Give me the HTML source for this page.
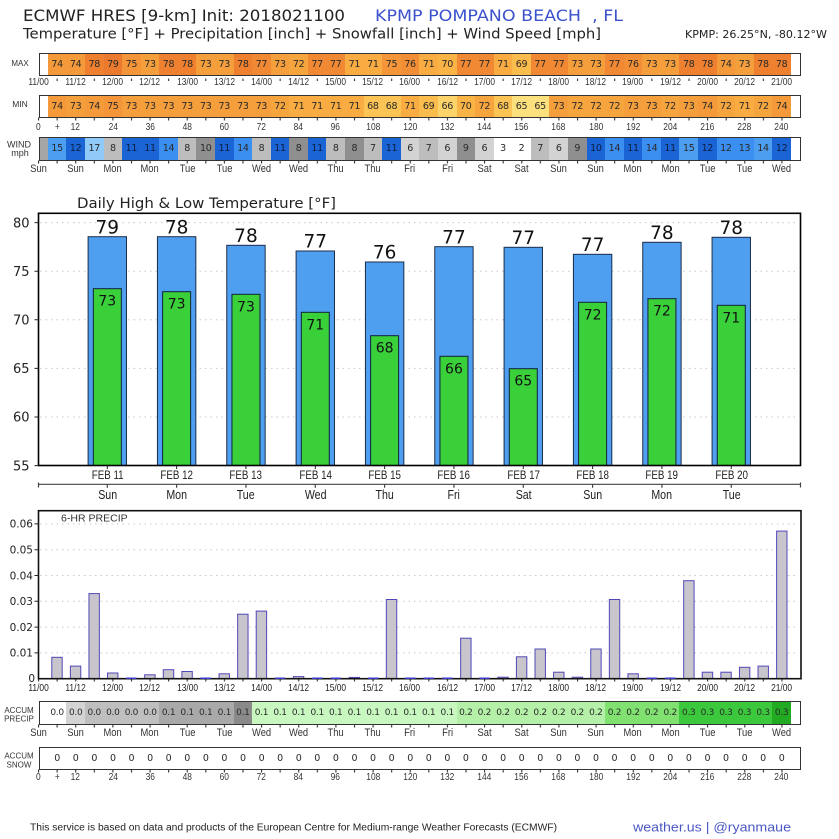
<!DOCTYPE html>
<html><head><meta charset="utf-8">
<style>
*{margin:0;padding:0;box-sizing:border-box}
body{width:839px;height:839px;position:relative;background:#fff;overflow:hidden;font-family:"DejaVu Sans","Liberation Sans",sans-serif}
svg{position:absolute;left:0;top:0}
.r{position:absolute;display:flex;left:47.8px;width:743.4px}
.r span{flex:0 0 18.585px;display:flex;justify-content:center;align-items:center;font-size:9.5px;color:#2a2a2a;white-space:nowrap;letter-spacing:-0.3px}
.r.ac span{font-size:9px}
.bx{position:absolute;left:38.5px;width:762px;border:1px solid #333}
.lab{position:absolute;display:flex;height:12px;font-family:"Liberation Sans",sans-serif;font-size:10px;color:#333}
.lab span{display:flex;justify-content:center;align-items:center;white-space:nowrap;transform:scaleX(.8)}
.d12{left:19.915px;width:780.57px;font-size:10.5px}.d12 span{flex:0 0 37.17px}
.h6{left:29.2075px;width:761.985px;font-size:10.5px}.h6 span{flex:0 0 18.585px}
.dy{font-size:11px}.dy span{transform:scaleX(.85)}
.fb{left:72.635px;width:693.3px;height:14px}.fb span{flex:0 0 69.33px;transform:scaleX(.85)}
.t79{background:#ec7a2e}.t78{background:#ee802f}.t77{background:#f08834}.t76{background:#f18e36}.t75{background:#f39538}.t74{background:#f49a3a}.t73{background:#f59f3c}.t72{background:#f6a53e}.t71{background:#f8ac41}.t70{background:#f9b445}.t69{background:#fabc4c}.t68{background:#fbc454}.t66{background:#fcd46a}.t65{background:#fde07e}
.b1{background:#4c9ff0}.b2{background:#1a64d6;color:#0d1d40 !important}.b3{background:#8fcaf8}.b4{background:#3b8ff0}.g1{background:#bdbdbd}.g2{background:#8f8f8f}.g3{background:#d3d3d3}.wh{background:#fff}
.a0{background:#fff}.a1{background:#d4d4d4}.a2{background:#bfbfbf}.a3{background:#a9a9a9}.a4{background:#8a8a8a}.a5{background:#c8f8c0}.a6{background:#b4f0a8}.a7{background:#80e070}.a8{background:#3cc83c}.a9{background:#22aa22}
</style></head><body>
<svg width="839" height="839" viewBox="0 0 839 839" font-family="DejaVu Sans, Liberation Sans, sans-serif">
<defs>
<pattern id="p6" x="38" y="0" width="18.585" height="40" patternUnits="userSpaceOnUse"><rect width="1.1" height="40" fill="#333"/></pattern>
<pattern id="p12" x="56.585" y="0" width="37.17" height="40" patternUnits="userSpaceOnUse"><rect width="1.1" height="40" fill="#333"/></pattern>
</defs>
<text x="23" y="21" font-size="16" fill="#222" textLength="322" lengthAdjust="spacingAndGlyphs">ECMWF HRES [9-km] Init: 2018021100</text>
<text x="375" y="21" font-size="16" fill="#3b52cc" textLength="248" lengthAdjust="spacingAndGlyphs" xml:space="preserve">KPMP POMPANO BEACH  , FL</text>
<text x="23" y="38.5" font-size="14" fill="#222" textLength="578" lengthAdjust="spacingAndGlyphs">Temperature [°F] + Precipitation [inch] + Snowfall [inch] + Wind Speed [mph]</text>
<text x="685" y="38" font-size="10.5" fill="#222" textLength="142" lengthAdjust="spacingAndGlyphs">KPMP: 26.25°N, -80.12°W</text>

<g font-family="Liberation Sans, sans-serif" fill="#333" text-anchor="middle">
<text x="20" y="66" font-size="8">MAX</text>
<text x="20" y="107" font-size="8.5">MIN</text>
<text x="19" y="147.5" font-size="9">WIND</text>
<text x="20" y="156" font-size="9">mph</text>
<text x="19" y="713" font-size="8">ACCUM</text>
<text x="19" y="721.5" font-size="8">PRECIP</text>
<text x="19" y="758.5" font-size="8">ACCUM</text>
<text x="19" y="767.5" font-size="8">SNOW</text>
</g>

<rect x="50" y="78.5" width="740" height="2.5" fill="url(#p12)"/>
<rect x="37" y="117.5" width="756" height="3" fill="url(#p6)"/>
<rect x="37" y="160.5" width="756" height="3" fill="url(#p6)"/>
<rect x="37" y="679" width="756" height="2.5" fill="url(#p6)"/>
<rect x="37" y="724.5" width="756" height="3" fill="url(#p6)"/>
<rect x="37" y="769.5" width="756" height="3" fill="url(#p6)"/>

<text x="77" y="208" font-size="14.5" fill="#222" textLength="259" lengthAdjust="spacingAndGlyphs">Daily High &amp; Low Temperature [°F]</text>
<path d="M40 417H799M40 368.4H799M40 319.8H799M40 271.2H799M40 222.6H799" stroke="#c8c8c8" stroke-width="1" stroke-dasharray="1.5 4" fill="none"/>
<g fill="#4f9ff0" stroke="#1c2c48" stroke-width="1">
<rect x="88.1" y="236.7" width="38.4" height="228.8"/>
<rect x="157.43" y="236.7" width="38.4" height="228.8"/>
<rect x="226.76" y="245.3" width="38.4" height="220.2"/>
<rect x="296.09" y="251" width="38.4" height="214.5"/>
<rect x="365.42" y="262" width="38.4" height="203.5"/>
<rect x="434.75" y="246.7" width="38.4" height="218.8"/>
<rect x="504.08" y="247.3" width="38.4" height="218.2"/>
<rect x="573.41" y="254.3" width="38.4" height="211.2"/>
<rect x="642.74" y="242.3" width="38.4" height="223.2"/>
<rect x="712.07" y="237.3" width="38.4" height="228.2"/>
</g>
<g fill="#3ad03a" stroke="#10203a" stroke-width="1">
<rect x="93.3" y="288.7" width="28" height="176.8"/>
<rect x="162.63" y="291.7" width="28" height="173.8"/>
<rect x="231.96" y="294.3" width="28" height="171.2"/>
<rect x="301.29" y="312.3" width="28" height="153.2"/>
<rect x="370.62" y="335.7" width="28" height="129.8"/>
<rect x="439.95" y="356.3" width="28" height="109.2"/>
<rect x="509.28" y="368.7" width="28" height="96.8"/>
<rect x="578.61" y="302.3" width="28" height="163.2"/>
<rect x="647.94" y="298.7" width="28" height="166.8"/>
<rect x="717.27" y="305.3" width="28" height="160.2"/>
</g>
<g font-size="18.5" fill="#111" text-anchor="middle">
<text x="107.3" y="233.4">79</text>
<text x="176.63" y="233.4">78</text>
<text x="245.96" y="242">78</text>
<text x="315.29" y="247.7">77</text>
<text x="384.62" y="258.7">76</text>
<text x="453.95" y="243.4">77</text>
<text x="523.28" y="244">77</text>
<text x="592.61" y="251">77</text>
<text x="661.94" y="239">78</text>
<text x="731.27" y="234">78</text>
</g>
<g font-size="14" fill="#111" text-anchor="middle">
<text x="107.3" y="305.7">73</text>
<text x="176.63" y="308.7">73</text>
<text x="245.96" y="311.3">73</text>
<text x="315.29" y="329.3">71</text>
<text x="384.62" y="352.7">68</text>
<text x="453.95" y="373.3">66</text>
<text x="523.28" y="385.7">65</text>
<text x="592.61" y="319.3">72</text>
<text x="661.94" y="315.7">72</text>
<text x="731.27" y="322.3">71</text>
</g>
<rect x="38.5" y="213.3" width="762" height="252.2" fill="none" stroke="#000" stroke-width="1.6"/>
<g font-size="13" fill="#222" text-anchor="end">
<text x="29.5" y="227.3">80</text>
<text x="29.5" y="275.9">75</text>
<text x="29.5" y="324.5">70</text>
<text x="29.5" y="373.1">65</text>
<text x="29.5" y="421.7">60</text>
<text x="29.5" y="470.3">55</text>
</g>
<path d="M34.5 222.6H38.5M34.5 271.2H38.5M34.5 319.8H38.5M34.5 368.4H38.5M34.5 417H38.5M34.5 465.6H38.5" stroke="#222" stroke-width="1"/>
<path d="M107.3 465.5v3.5M176.63 465.5v3.5M245.96 465.5v3.5M315.29 465.5v3.5M384.62 465.5v3.5M453.95 465.5v3.5M523.28 465.5v3.5M592.61 465.5v3.5M661.94 465.5v3.5M731.27 465.5v3.5" stroke="#222" stroke-width="1"/>
<path d="M38.5 484.3H800.5M38.5 482.5V487.5M800.5 482.5V487.5M107.3 484.3v3.5M176.63 484.3v3.5M245.96 484.3v3.5M315.29 484.3v3.5M384.62 484.3v3.5M453.95 484.3v3.5M523.28 484.3v3.5M592.61 484.3v3.5M661.94 484.3v3.5M731.27 484.3v3.5" stroke="#444" stroke-width="1.2" fill="none"/>

<path d="M40 652.9H799M40 627.1H799M40 601.3H799M40 575.5H799M40 549.7H799M40 523.9H799" stroke="#c8c8c8" stroke-width="1" stroke-dasharray="1.5 4" fill="none"/>
<text x="61" y="521.5" font-size="10" font-family="Liberation Sans, sans-serif" fill="#333" textLength="66.7" lengthAdjust="spacingAndGlyphs">6-HR PRECIP</text>
<g fill="#c8c6cc" stroke="#5048b8" stroke-width="1">
<rect x="51.79" y="657.3" width="10.4" height="21.4"/>
<rect x="70.37" y="666.1" width="10.4" height="12.6"/>
<rect x="88.96" y="593.6" width="10.4" height="85.1"/>
<rect x="107.54" y="673" width="10.4" height="5.7"/>
<rect x="144.71" y="674.8" width="10.4" height="3.9"/>
<rect x="163.3" y="669.7" width="10.4" height="9"/>
<rect x="181.88" y="671.5" width="10.4" height="7.2"/>
<rect x="219.05" y="673.8" width="10.4" height="4.9"/>
<rect x="237.64" y="614.2" width="10.4" height="64.5"/>
<rect x="256.22" y="611.1" width="10.4" height="67.6"/>
<rect x="293.39" y="676.6" width="10.4" height="2.1"/>
<rect x="349.15" y="677.4" width="10.4" height="1.3"/>
<rect x="386.32" y="599.5" width="10.4" height="79.2"/>
<rect x="460.66" y="638.2" width="10.4" height="40.5"/>
<rect x="497.83" y="677.2" width="10.4" height="1.5"/>
<rect x="516.41" y="656.8" width="10.4" height="21.9"/>
<rect x="535" y="649" width="10.4" height="29.7"/>
<rect x="553.58" y="672.2" width="10.4" height="6.5"/>
<rect x="572.17" y="677.2" width="10.4" height="1.5"/>
<rect x="590.75" y="649" width="10.4" height="29.7"/>
<rect x="609.34" y="599.5" width="10.4" height="79.2"/>
<rect x="627.92" y="673.8" width="10.4" height="4.9"/>
<rect x="683.68" y="580.7" width="10.4" height="98"/>
<rect x="702.26" y="672.2" width="10.4" height="6.5"/>
<rect x="720.85" y="672.2" width="10.4" height="6.5"/>
<rect x="739.43" y="667.3" width="10.4" height="11.4"/>
<rect x="758.02" y="666.1" width="10.4" height="12.6"/>
<rect x="776.6" y="531.1" width="10.4" height="147.6"/>
</g>
<rect x="38.5" y="510.7" width="762.5" height="168" fill="none" stroke="#111" stroke-width="1.6"/>
<path d="M126.13 678.2h10.4M200.47 678.2h10.4M274.81 678.2h10.4M311.98 678.2h10.4M330.56 678.2h10.4M367.73 678.2h10.4M404.9 678.2h10.4M423.49 678.2h10.4M442.07 678.2h10.4M479.24 678.2h10.4M646.51 678.2h10.4M665.09 678.2h10.4" stroke="#3a3acc" stroke-width="1.5"/>
<g font-size="10.5" fill="#222" text-anchor="end">
<text x="33" y="527.7">0.06</text>
<text x="33" y="553.5">0.05</text>
<text x="33" y="579.3">0.04</text>
<text x="33" y="605.1">0.03</text>
<text x="33" y="630.9">0.02</text>
<text x="33" y="656.7">0.01</text>
<text x="35" y="682">0</text>
</g>
<path d="M34.5 523.9H38.5M34.5 549.7H38.5M34.5 575.5H38.5M34.5 601.3H38.5M34.5 627.1H38.5M34.5 652.9H38.5" stroke="#222" stroke-width="1"/>

<text x="30" y="830.5" font-size="10" font-family="Liberation Sans, sans-serif" fill="#222" textLength="527" lengthAdjust="spacingAndGlyphs">This service is based on data and products of the European Centre for Medium-range Weather Forecasts (ECMWF)</text>
<text x="633" y="831.5" font-size="13" font-family="Liberation Sans, sans-serif" fill="#4a58c4" textLength="158" lengthAdjust="spacingAndGlyphs">weather.us | @ryanmaue</text>
</svg>

<div class="r" style="top:54px;height:20.5px"><span class="t74">74</span><span class="t74">74</span><span class="t78">78</span><span class="t79">79</span><span class="t75">75</span><span class="t73">73</span><span class="t78">78</span><span class="t78">78</span><span class="t73">73</span><span class="t73">73</span><span class="t78">78</span><span class="t77">77</span><span class="t73">73</span><span class="t72">72</span><span class="t77">77</span><span class="t77">77</span><span class="t71">71</span><span class="t71">71</span><span class="t75">75</span><span class="t76">76</span><span class="t71">71</span><span class="t70">70</span><span class="t77">77</span><span class="t77">77</span><span class="t71">71</span><span class="t69">69</span><span class="t77">77</span><span class="t77">77</span><span class="t73">73</span><span class="t73">73</span><span class="t77">77</span><span class="t76">76</span><span class="t73">73</span><span class="t73">73</span><span class="t78">78</span><span class="t78">78</span><span class="t74">74</span><span class="t73">73</span><span class="t78">78</span><span class="t78">78</span></div>
<div class="bx" style="top:53px;height:22.5px"></div>

<div class="lab d12" style="top:75.7px"><span>11/00</span><span>11/12</span><span>12/00</span><span>12/12</span><span>13/00</span><span>13/12</span><span>14/00</span><span>14/12</span><span>15/00</span><span>15/12</span><span>16/00</span><span>16/12</span><span>17/00</span><span>17/12</span><span>18/00</span><span>18/12</span><span>19/00</span><span>19/12</span><span>20/00</span><span>20/12</span><span>21/00</span></div>

<div class="r" style="top:96px;height:20.5px"><span class="t74">74</span><span class="t73">73</span><span class="t74">74</span><span class="t75">75</span><span class="t73">73</span><span class="t73">73</span><span class="t73">73</span><span class="t73">73</span><span class="t73">73</span><span class="t73">73</span><span class="t73">73</span><span class="t73">73</span><span class="t72">72</span><span class="t71">71</span><span class="t71">71</span><span class="t71">71</span><span class="t71">71</span><span class="t68">68</span><span class="t68">68</span><span class="t71">71</span><span class="t69">69</span><span class="t66">66</span><span class="t70">70</span><span class="t72">72</span><span class="t68">68</span><span class="t65">65</span><span class="t65">65</span><span class="t73">73</span><span class="t72">72</span><span class="t72">72</span><span class="t72">72</span><span class="t73">73</span><span class="t73">73</span><span class="t72">72</span><span class="t73">73</span><span class="t74">74</span><span class="t72">72</span><span class="t71">71</span><span class="t72">72</span><span class="t74">74</span></div>
<div class="bx" style="top:95px;height:22.5px"></div>

<div class="lab h6" style="top:120.7px"><span>0</span><span>+</span><span>12</span><span></span><span>24</span><span></span><span>36</span><span></span><span>48</span><span></span><span>60</span><span></span><span>72</span><span></span><span>84</span><span></span><span>96</span><span></span><span>108</span><span></span><span>120</span><span></span><span>132</span><span></span><span>144</span><span></span><span>156</span><span></span><span>168</span><span></span><span>180</span><span></span><span>192</span><span></span><span>204</span><span></span><span>216</span><span></span><span>228</span><span></span><span>240</span></div>

<div style="position:absolute;left:39.5px;top:138px;width:8.3px;height:21.5px;background:#a6a6a6"></div>
<div class="r" style="top:138px;height:21.5px"><span class="b1">15</span><span class="b2">12</span><span class="b3">17</span><span class="g1">8</span><span class="b2">11</span><span class="b2">11</span><span class="b4">14</span><span class="g1">8</span><span class="g2">10</span><span class="b2">11</span><span class="b4">14</span><span class="g1">8</span><span class="b2">11</span><span class="g2">8</span><span class="b2">11</span><span class="g1">8</span><span class="g2">8</span><span class="g1">7</span><span class="b2">11</span><span class="g3">6</span><span class="g1">7</span><span class="g3">6</span><span class="g2">9</span><span class="g3">6</span><span class="wh">3</span><span class="wh">2</span><span class="g1">7</span><span class="g3">6</span><span class="g2">9</span><span class="b2">10</span><span class="b4">14</span><span class="b2">11</span><span class="b4">14</span><span class="b2">11</span><span class="b1">15</span><span class="b2">12</span><span class="b4">12</span><span class="b4">13</span><span class="b1">14</span><span class="b2">12</span></div>
<div class="bx" style="top:137px;height:23.5px"></div>

<div class="lab d12 dy" style="top:163px"><span>Sun</span><span>Sun</span><span>Mon</span><span>Mon</span><span>Tue</span><span>Tue</span><span>Wed</span><span>Wed</span><span>Thu</span><span>Thu</span><span>Fri</span><span>Fri</span><span>Sat</span><span>Sat</span><span>Sun</span><span>Sun</span><span>Mon</span><span>Mon</span><span>Tue</span><span>Tue</span><span>Wed</span></div>

<div class="lab fb" style="top:468.7px;font-size:11.5px;color:#222"><span>FEB 11</span><span>FEB 12</span><span>FEB 13</span><span>FEB 14</span><span>FEB 15</span><span>FEB 16</span><span>FEB 17</span><span>FEB 18</span><span>FEB 19</span><span>FEB 20</span></div>
<div class="lab fb" style="top:487.7px;font-size:12.5px;color:#222"><span>Sun</span><span>Mon</span><span>Tue</span><span>Wed</span><span>Thu</span><span>Fri</span><span>Sat</span><span>Sun</span><span>Mon</span><span>Tue</span></div>

<div class="lab d12" style="top:681.7px;color:#222"><span>11/00</span><span>11/12</span><span>12/00</span><span>12/12</span><span>13/00</span><span>13/12</span><span>14/00</span><span>14/12</span><span>15/00</span><span>15/12</span><span>16/00</span><span>16/12</span><span>17/00</span><span>17/12</span><span>18/00</span><span>18/12</span><span>19/00</span><span>19/12</span><span>20/00</span><span>20/12</span><span>21/00</span></div>

<div class="r ac" style="top:702px;height:21.5px"><span class="a0">0.0</span><span class="a1">0.0</span><span class="a2">0.0</span><span class="a2">0.0</span><span class="a2">0.0</span><span class="a2">0.0</span><span class="a3">0.1</span><span class="a3">0.1</span><span class="a3">0.1</span><span class="a3">0.1</span><span class="a4">0.1</span><span class="a5">0.1</span><span class="a5">0.1</span><span class="a5">0.1</span><span class="a5">0.1</span><span class="a5">0.1</span><span class="a5">0.1</span><span class="a5">0.1</span><span class="a5">0.1</span><span class="a5">0.1</span><span class="a5">0.1</span><span class="a5">0.1</span><span class="a6">0.2</span><span class="a6">0.2</span><span class="a6">0.2</span><span class="a6">0.2</span><span class="a6">0.2</span><span class="a6">0.2</span><span class="a6">0.2</span><span class="a6">0.2</span><span class="a7">0.2</span><span class="a7">0.2</span><span class="a7">0.2</span><span class="a7">0.2</span><span class="a8">0.3</span><span class="a8">0.3</span><span class="a8">0.3</span><span class="a8">0.3</span><span class="a8">0.3</span><span class="a9">0.3</span></div>
<div class="bx" style="top:701px;height:23.5px"></div>

<div class="lab d12 dy" style="top:726.7px"><span>Sun</span><span>Sun</span><span>Mon</span><span>Mon</span><span>Tue</span><span>Tue</span><span>Wed</span><span>Wed</span><span>Thu</span><span>Thu</span><span>Fri</span><span>Fri</span><span>Sat</span><span>Sat</span><span>Sun</span><span>Sun</span><span>Mon</span><span>Mon</span><span>Tue</span><span>Tue</span><span>Wed</span></div>

<div class="r" style="top:748px;height:20.5px"><span>0</span><span>0</span><span>0</span><span>0</span><span>0</span><span>0</span><span>0</span><span>0</span><span>0</span><span>0</span><span>0</span><span>0</span><span>0</span><span>0</span><span>0</span><span>0</span><span>0</span><span>0</span><span>0</span><span>0</span><span>0</span><span>0</span><span>0</span><span>0</span><span>0</span><span>0</span><span>0</span><span>0</span><span>0</span><span>0</span><span>0</span><span>0</span><span>0</span><span>0</span><span>0</span><span>0</span><span>0</span><span>0</span><span>0</span><span>0</span></div>
<div class="bx" style="top:747px;height:22.5px"></div>

<div class="lab h6" style="top:770.7px"><span>0</span><span>+</span><span>12</span><span></span><span>24</span><span></span><span>36</span><span></span><span>48</span><span></span><span>60</span><span></span><span>72</span><span></span><span>84</span><span></span><span>96</span><span></span><span>108</span><span></span><span>120</span><span></span><span>132</span><span></span><span>144</span><span></span><span>156</span><span></span><span>168</span><span></span><span>180</span><span></span><span>192</span><span></span><span>204</span><span></span><span>216</span><span></span><span>228</span><span></span><span>240</span></div>
</body></html>
